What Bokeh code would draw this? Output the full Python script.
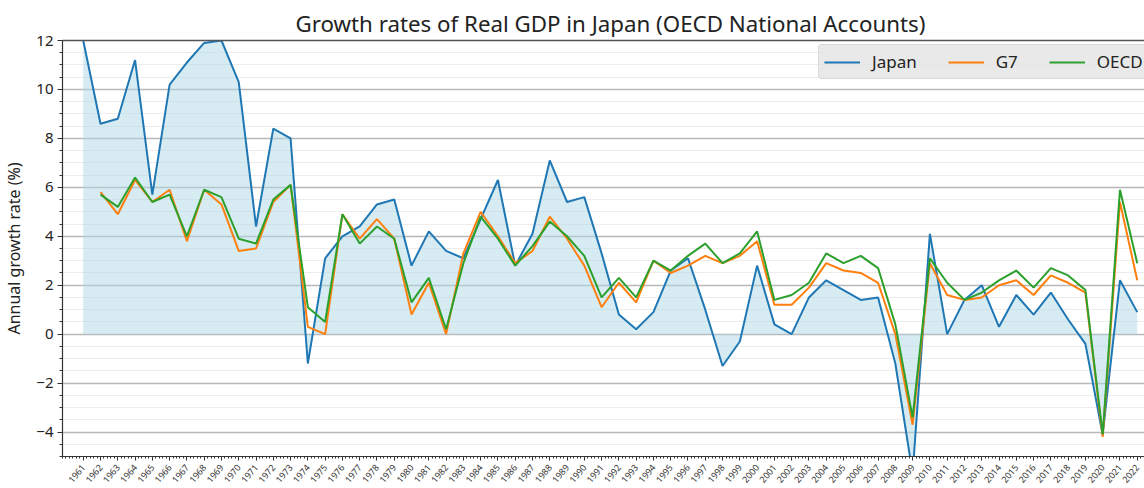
import math
from bokeh.plotting import figure
from bokeh.models import (FixedTicker, LinearAxis, Range1d,
                          Legend, LegendItem, ColumnDataSource)
from bokeh.embed import file_html
from bokeh.resources import INLINE

# ---- data (annual real GDP growth, %) ----
years = list(range(1961, 2023))
years_g = years[1:]  # G7 / OECD series start in 1962

japan = [12.0, 8.6, 8.8, 11.2, 5.7, 10.2, 11.1, 11.9, 12.0, 10.3,
         4.4, 8.4, 8.0, -1.2, 3.1, 4.0, 4.4, 5.3, 5.5, 2.8,
         4.2, 3.4, 3.1, 4.7, 6.3, 2.8, 4.1, 7.1, 5.4, 5.6,
         3.3, 0.8, 0.2, 0.9, 2.6, 3.1, 1.0, -1.3, -0.3, 2.8,
         0.4, 0.0, 1.5, 2.2, 1.8, 1.4, 1.5, -1.2, -5.7, 4.1,
         0.0, 1.4, 2.0, 0.3, 1.6, 0.8, 1.7, 0.6, -0.4, -4.1,
         2.2, 0.9]

g7 = [5.8, 4.9, 6.3, 5.4, 5.9, 3.8, 5.9, 5.3, 3.4, 3.5,
      5.4, 6.1, 0.3, 0.0, 4.9, 3.9, 4.7, 3.9, 0.8, 2.1,
      0.0, 3.3, 5.0, 4.0, 2.9, 3.4, 4.8, 3.9, 2.8, 1.1,
      2.1, 1.3, 3.0, 2.5, 2.8, 3.2, 2.9, 3.2, 3.8, 1.2,
      1.2, 1.9, 2.9, 2.6, 2.5, 2.1, 0.0, -3.7, 2.9, 1.6,
      1.4, 1.5, 2.0, 2.2, 1.6, 2.4, 2.1, 1.7, -4.2, 5.4, 2.2]

oecd = [5.7, 5.2, 6.4, 5.4, 5.7, 4.0, 5.9, 5.6, 3.9, 3.7,
        5.5, 6.1, 1.1, 0.5, 4.9, 3.7, 4.4, 3.9, 1.3, 2.3,
        0.2, 2.9, 4.8, 3.9, 2.8, 3.6, 4.6, 4.0, 3.2, 1.5,
        2.3, 1.5, 3.0, 2.6, 3.2, 3.7, 2.9, 3.3, 4.2, 1.4,
        1.6, 2.1, 3.3, 2.9, 3.2, 2.7, 0.4, -3.4, 3.1, 2.1,
        1.4, 1.7, 2.2, 2.6, 1.9, 2.7, 2.4, 1.8, -4.1, 5.9, 2.9]

series_labels = ["Japan", "G7", "OECD"]
y_ticks = [-4, -2, 0, 2, 4, 6, 8, 10, 12]

TITLE = "Growth rates of Real GDP in Japan (OECD National Accounts)"
FONT = "Noto Sans"
C_JP, C_G7, C_OECD = "#1f77b4", "#ff7f0e", "#2ca02c"

src_j = ColumnDataSource(dict(x=years, y=japan, zero=[0.0] * len(years)))
src_g = ColumnDataSource(dict(x=years_g, g7=g7, oecd=oecd))

p = figure(width=1144, height=488,
           x_range=Range1d(1959.8, 2022.42), y_range=Range1d(-5, 12),
           output_backend="svg", toolbar_location=None,
           min_border_left=62, min_border_right=0, min_border_top=40,
           min_border_bottom=32)

p.background_fill_color = "white"
p.border_fill_color = "white"
p.outline_line_color = None

# title
p.title.text = TITLE
p.title.align = "left"
p.title.offset = 233
p.title.text_font = FONT
p.title.text_font_size = "22.3px"
p.title.text_font_style = "normal"
p.title.text_color = "#222222"
p.title.standoff = 3

# fill + lines
p.varea(x="x", y1="zero", y2="y", source=src_j, fill_color="#add8e6", fill_alpha=0.5)
r_j = p.line("x", "y", source=src_j, line_color=C_JP, line_width=2)
r_g = p.line("x", "g7", source=src_g, line_color=C_G7, line_width=2)
r_o = p.line("x", "oecd", source=src_g, line_color=C_OECD, line_width=2)

# y axis
yax = p.yaxis[0]
yax.ticker = FixedTicker(ticks=y_ticks,
                         minor_ticks=[-5 + 0.5 * k for k in range(35)])
yax.major_label_overrides = {-4: "\u22124", -2: "\u22122"}
yax.axis_label = "Annual growth rate (%)"
yax.axis_label_text_font = FONT
yax.axis_label_text_font_size = "16px"
yax.axis_label_text_font_style = "normal"
yax.axis_label_text_color = "#222222"
yax.axis_label_standoff = 8
yax.major_label_text_font = FONT
yax.major_label_text_font_size = "15px"
yax.major_label_text_color = "#222222"
yax.major_label_standoff = 4
yax.axis_line_color = "#333333"
yax.axis_line_width = 1.2
yax.major_tick_line_color = "#333333"
yax.major_tick_out = 5
yax.major_tick_in = 0
yax.minor_tick_line_color = "#333333"
yax.minor_tick_out = 3
yax.minor_tick_in = 0

# x axis
xax = p.xaxis[0]
xax.ticker = FixedTicker(ticks=years,
                         minor_ticks=[1959.8 + 0.2 * k for k in range(314)])
xax.major_label_orientation = math.radians(50)
xax.major_label_text_font = FONT
xax.major_label_text_font_size = "9px"
xax.major_label_text_color = "#333333"
xax.major_label_standoff = 5
xax.axis_line_color = "#333333"
xax.axis_line_width = 1.2
xax.major_tick_line_color = "#333333"
xax.major_tick_out = 4
xax.major_tick_in = 0
xax.minor_tick_line_color = "#333333"
xax.minor_tick_out = 2
xax.minor_tick_in = 0

# top spine
top = LinearAxis(ticker=FixedTicker(ticks=[]), axis_line_color="#555555",
                 axis_line_width=1.5, major_tick_out=0, major_tick_in=0,
                 minor_tick_out=0, minor_tick_in=0, major_label_standoff=0,
                 major_label_text_font_size="0px")
p.add_layout(top, "above")

# grids
p.xgrid.grid_line_color = None
p.ygrid.ticker = yax.ticker
p.ygrid.grid_line_color = "#b8b8b8"
p.ygrid.grid_line_width = 1.5
p.ygrid.minor_grid_line_color = "#ececec"
p.ygrid.minor_grid_line_width = 1

# legend
legend = Legend(items=[LegendItem(label=series_labels[0], renderers=[r_j]),
                       LegendItem(label=series_labels[1], renderers=[r_g]),
                       LegendItem(label=series_labels[2], renderers=[r_o])],
                orientation="horizontal", location=(756, 377),
                glyph_width=36, glyph_height=20, label_standoff=12,
                spacing=31, padding=5, margin=0,
                label_text_font=FONT, label_text_font_size="17px",
                label_text_color="#222222",
                background_fill_color="#e5e5e5", background_fill_alpha=0.85,
                border_line_color="#cccccc", border_radius=4)
p.add_layout(legend)

open("out.html", "w").write(file_html(p, INLINE))
